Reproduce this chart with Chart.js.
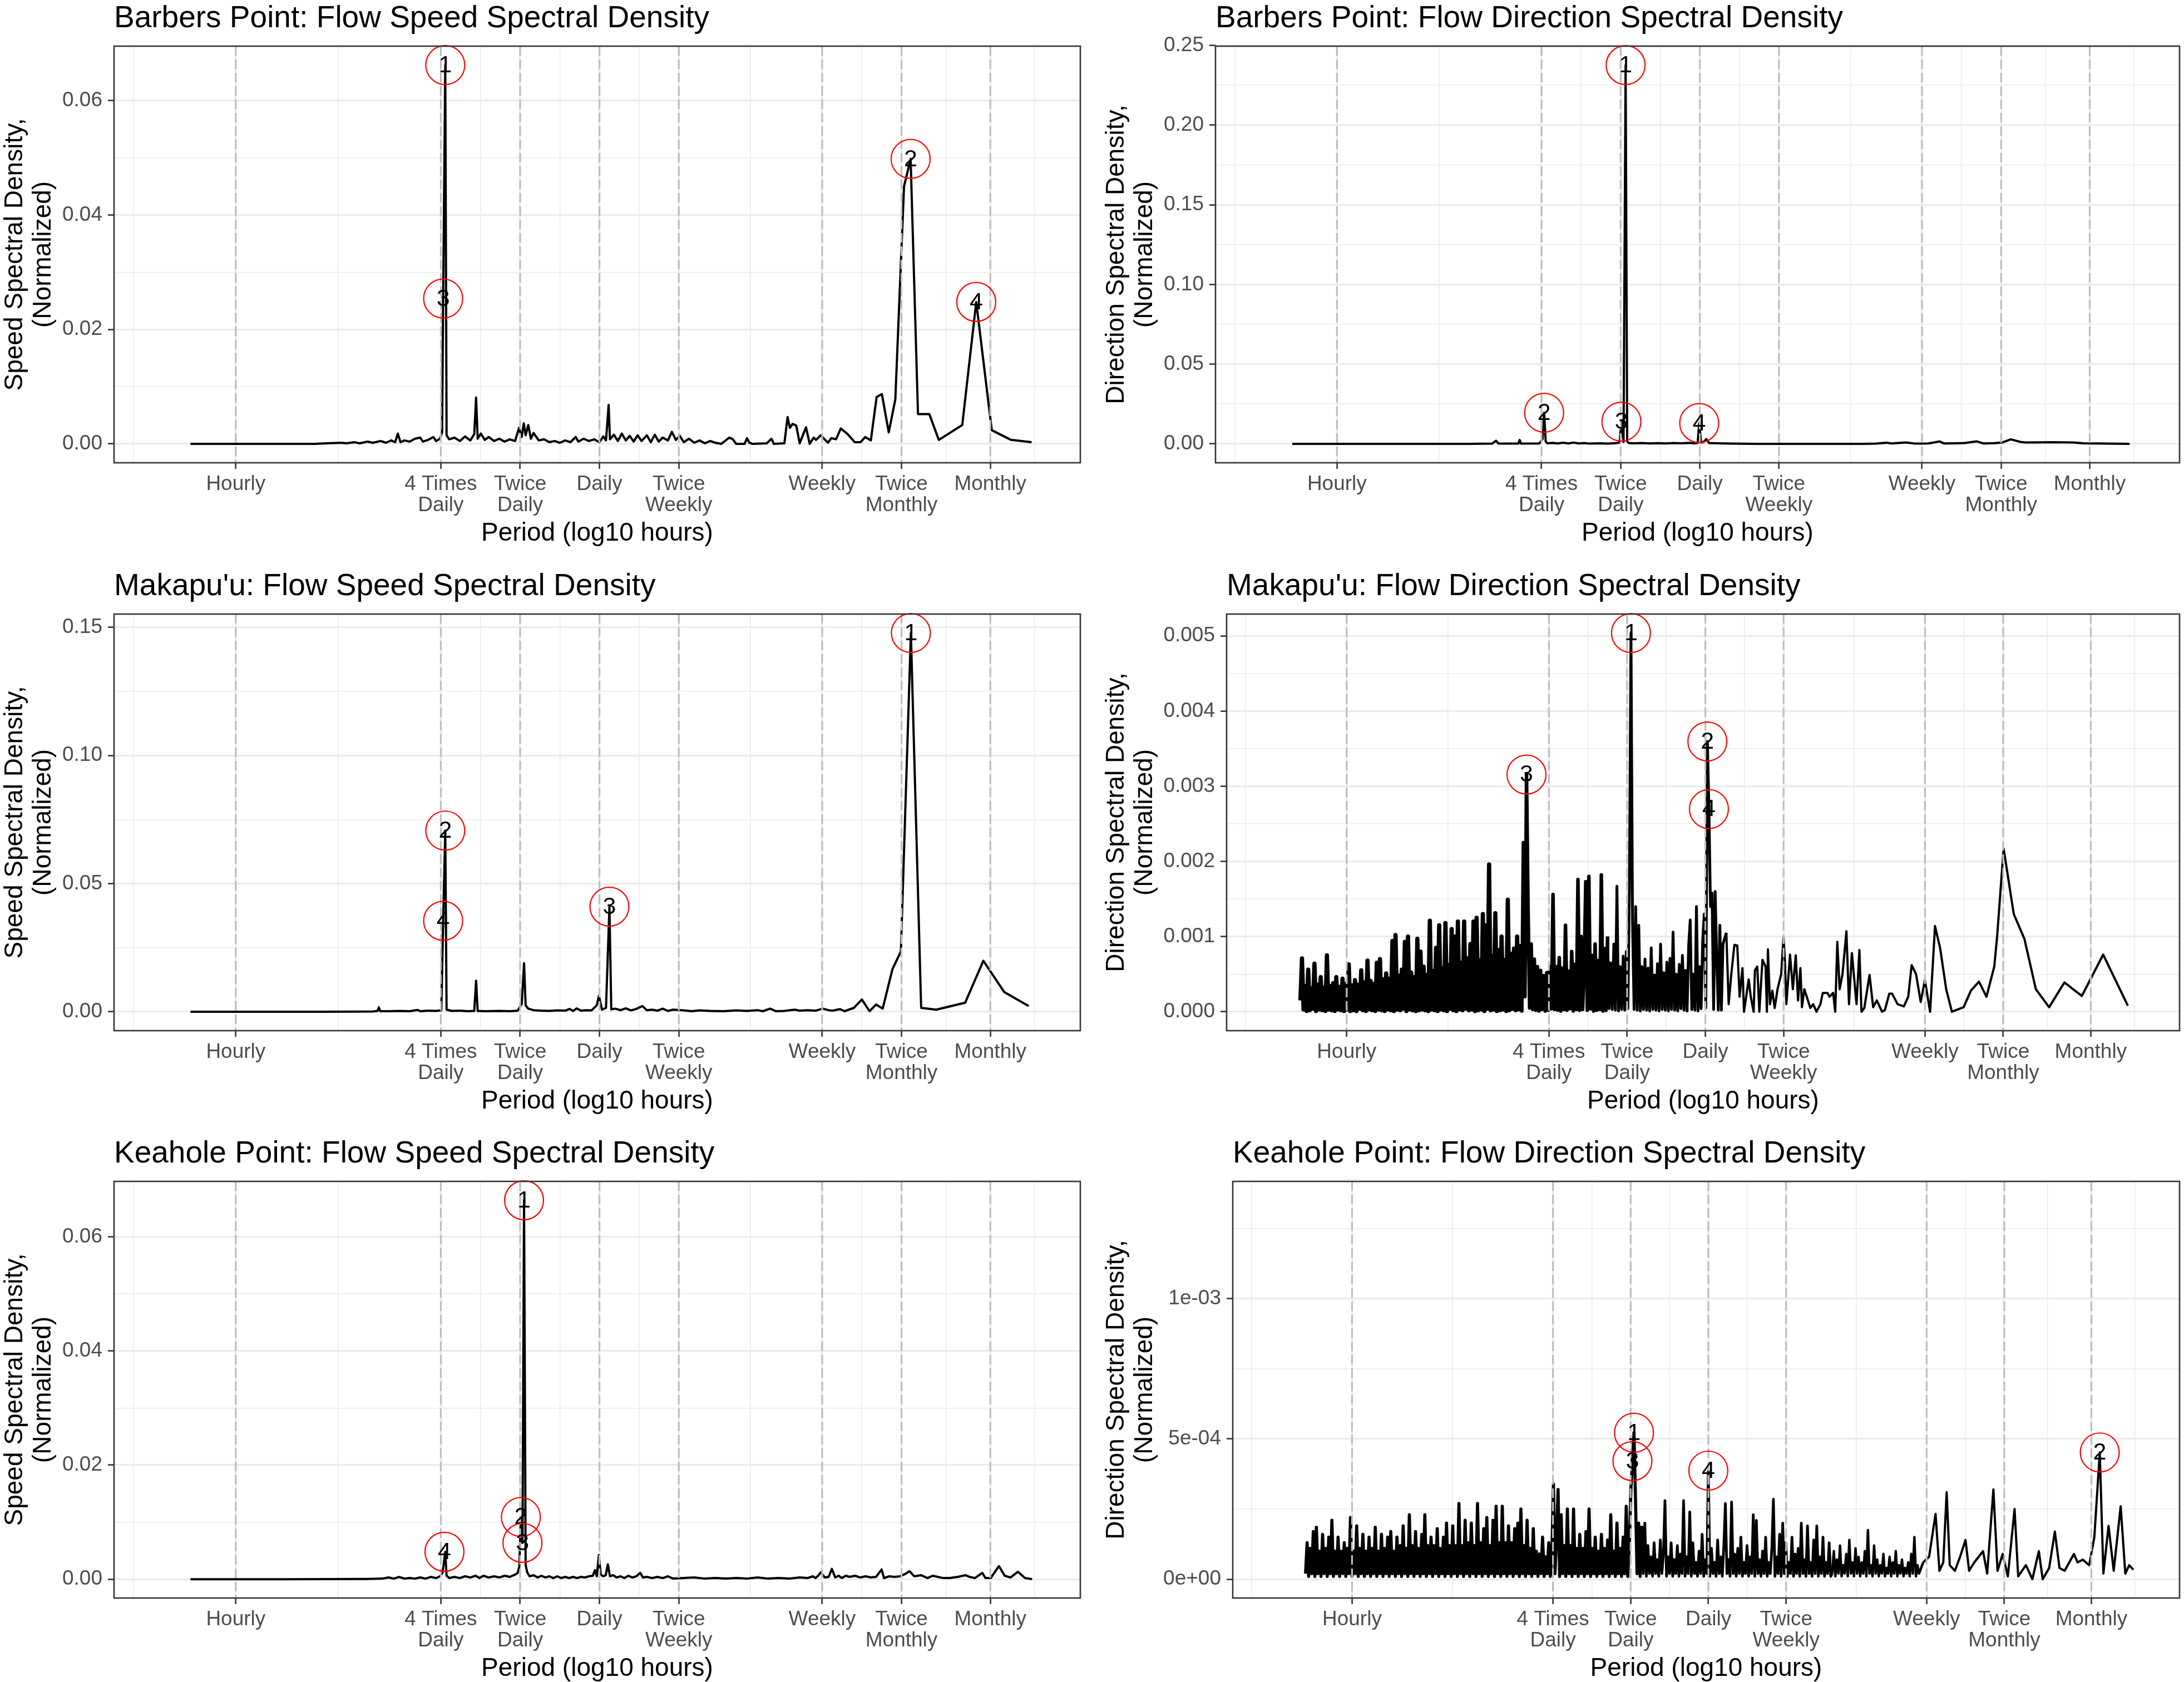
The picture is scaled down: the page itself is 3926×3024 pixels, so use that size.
<!DOCTYPE html>
<html>
<head>
<meta charset="utf-8">
<title>Flow Speed and Direction Spectral Density</title>
<script src="https://cdn.jsdelivr.net/npm/chart.js@4.4.1/dist/chart.umd.min.js"></script>
<style>
  html, body { margin: 0; padding: 0; background: #ffffff; }
  body { width: 3926px; height: 3024px; position: relative; overflow: hidden; }
  canvas { position: absolute; }
</style>
</head>
<body>
<script>
// x values are log10(period in hours), as on the original axes
const periodHours = [1, 6, 12, 24, 48, 168, 336, 730];
const periodLabels = ['Hourly', ['4 Times', 'Daily'], ['Twice', 'Daily'], 'Daily', ['Twice', 'Weekly'], 'Weekly', ['Twice', 'Monthly'], 'Monthly'];
const periodMin = -0.462, periodMax = 3.205;

// y axis breaks per panel
const speedBreaks = [0, 0.02, 0.04, 0.06];
const speedLabels = ['0.00', '0.02', '0.04', '0.06'];
const speedMinor = [0.01, 0.03, 0.05];
const bpDirBreaks = [0, 0.05, 0.10, 0.15, 0.20, 0.25];
const bpDirLabels = ['0.00', '0.05', '0.10', '0.15', '0.20', '0.25'];
const bpDirMinor = [0.025, 0.075, 0.125, 0.175, 0.225];
const mkSpeedBreaks = [0, 0.05, 0.10, 0.15];
const mkSpeedLabels = ['0.00', '0.05', '0.10', '0.15'];
const mkSpeedMinor = [0.025, 0.075, 0.125];
const mkDirBreaks = [0, 0.001, 0.002, 0.003, 0.004, 0.005];
const mkDirLabels = ['0.000', '0.001', '0.002', '0.003', '0.004', '0.005'];
const mkDirMinor = [0.0005, 0.0015, 0.0025, 0.0035, 0.0045];
const khDirBreaks = [0, 0.0005, 0.001];
const khDirLabels = ['0e+00', '5e-04', '1e-03'];
const khDirMinor = [0.00025, 0.00075, 0.00125];

// Barbers Point, speed: [log10 period, density]
const bpSpeed = [
  [-0.172,0],[0.10,0],[0.30,0],[0.345,0.0001],[0.40,0.0002],[0.42,0.0001],[0.45,0.0003],[0.47,0.0001],[0.50,0.0004],[0.52,0.0002],
  [0.55,0.0005],[0.57,0.0002],[0.59,0.0006],[0.605,0.0003],[0.615,0.0018],[0.625,0.0003],[0.64,0.0006],[0.66,0.0004],[0.68,0.0009],[0.70,0.0011],
  [0.71,0.0004],[0.73,0.0007],[0.75,0.0012],[0.76,0.0005],[0.775,0.0009],[0.783,0.002],[0.787,0.0254],[0.795,0.0662],[0.80,0.0015],[0.81,0.0008],
  [0.83,0.0011],[0.85,0.0005],[0.87,0.0013],[0.89,0.0006],[0.905,0.0017],[0.912,0.0081],[0.918,0.0009],[0.93,0.0018],[0.945,0.0007],[0.96,0.0012],
  [0.98,0.0005],[1.00,0.0009],[1.02,0.0004],[1.04,0.0008],[1.06,0.0005],[1.075,0.0028],[1.085,0.0012],[1.093,0.0036],[1.10,0.0015],[1.11,0.0033],
  [1.12,0.0009],[1.13,0.0019],[1.15,0.0006],[1.17,0.0008],[1.19,0.0003],[1.21,0.0005],[1.23,0.0002],[1.25,0.0006],[1.27,0.0003],[1.29,0.0012],
  [1.30,0.0004],[1.32,0.0009],[1.34,0.0005],[1.36,0.0008],[1.38,0.0003],[1.395,0.0013],[1.405,0.0006],[1.415,0.0068],[1.42,0.0008],[1.435,0.0016],
  [1.45,0.0005],[1.465,0.0018],[1.48,0.0006],[1.495,0.0014],[1.51,0.0004],[1.525,0.0015],[1.54,0.0005],[1.56,0.0015],[1.575,0.0003],[1.59,0.0016],
  [1.605,0.0004],[1.62,0.0011],[1.64,0.0006],[1.655,0.0021],[1.67,0.0007],[1.685,0.0014],[1.70,0.0003],[1.72,0.0009],[1.74,0.0002],[1.76,0.0006],
  [1.78,0.0001],[1.80,0.0005],[1.82,0.0002],[1.842,0],[1.873,0.0011],[1.886,0.0008],[1.899,0],[1.931,0],[1.94,0.001],[1.949,0.0002],
  [1.962,0],[2.015,0.0001],[2.033,0.0009],[2.042,0],[2.082,0.0001],[2.094,0.0047],[2.103,0.0028],[2.113,0.0035],[2.127,0.0032],[2.14,0.0001],
  [2.164,0.0029],[2.178,0],[2.193,0.0011],[2.202,0.0007],[2.22,0.0015],[2.247,0.0002],[2.26,0.001],[2.278,0.0008],[2.296,0.0027],[2.322,0.0017],
  [2.349,0.0003],[2.371,0.0003],[2.389,0.0012],[2.41,0.0006],[2.432,0.0082],[2.452,0.0087],[2.478,0.002],[2.503,0.0078],[2.536,0.045],[2.561,0.0498],
  [2.589,0.0052],[2.632,0.0052],[2.668,0.0007],[2.757,0.0033],[2.81,0.0248],[2.869,0.0024],[2.942,0.0007],[3.02,0.0003]
];
const bpSpeedPeaks = [[0.795,0.0662,'1'],[2.561,0.0498,'2'],[0.787,0.0254,'3'],[2.81,0.0248,'4']];

// Barbers Point, direction
const bpDir = [
  [-0.17,0],[0.5,0],[0.59,0.0001],[0.605,0.0019],[0.615,0.0001],[0.69,0.0001],[0.695,0.0024],[0.70,0.0001],[0.77,0.0002],[0.782,0.003],
  [0.788,0.0195],[0.794,0.0015],[0.80,0.0003],[0.82,0.0006],[0.84,0.0002],[0.86,0.0007],[0.88,0.0002],[0.90,0.0008],[0.92,0.0002],[0.94,0.0005],
  [0.96,0.0001],[1.00,0.0003],[1.03,0.0001],[1.06,0.0004],[1.075,0.0008],[1.082,0.0139],[1.09,0.0012],[1.098,0.2376],[1.104,0.0015],[1.11,0.0005],
  [1.13,0.0003],[1.16,0.0005],[1.19,0.0002],[1.22,0.0004],[1.25,0.0002],[1.28,0.0005],[1.31,0.0003],[1.34,0.0006],[1.36,0.0003],[1.372,0.0006],
  [1.378,0.013],[1.385,0.0008],[1.395,0.0012],[1.405,0.003],[1.415,0.0005],[1.45,0.0003],[1.5,0.0001],[1.6,0],[2.0,0],[2.05,0.0001],
  [2.09,0.0007],[2.11,0.0002],[2.14,0.0006],[2.165,0.0008],[2.2,0.0001],[2.25,0.0002],[2.292,0.0015],[2.31,0.0002],[2.35,0.0003],[2.387,0.0005],
  [2.434,0.0015],[2.46,0.0002],[2.5,0.0004],[2.53,0.0008],[2.563,0.0028],[2.6,0.0012],[2.62,0.0008],[2.68,0.0009],[2.72,0.001],[2.8,0.0008],
  [2.84,0.0003],[3.015,0]
];
const bpDirPeaks = [[1.098,0.2376,'1'],[0.788,0.0195,'2'],[1.082,0.0139,'3'],[1.378,0.013,'4']];

// Makapu'u, speed
const mkSpeed = [
  [-0.172,0],[0.30,0],[0.45,0.00005],[0.52,0.0001],[0.538,0.0003],[0.543,0.0017],[0.548,0.0002],[0.58,0.0002],[0.62,0.0003],[0.66,0.0002],
  [0.69,0.0007],[0.70,0.0002],[0.73,0.0004],[0.76,0.0003],[0.78,0.0006],[0.787,0.0355],[0.795,0.0707],[0.80,0.0008],[0.82,0.0003],[0.85,0.0004],
  [0.88,0.0002],[0.905,0.0003],[0.912,0.0121],[0.918,0.0003],[0.95,0.0002],[1.00,0.0003],[1.04,0.0002],[1.07,0.0004],[1.085,0.003],[1.094,0.0189],
  [1.10,0.0025],[1.11,0.0012],[1.13,0.0006],[1.16,0.0004],[1.19,0.0003],[1.22,0.0005],[1.25,0.0004],[1.267,0.0011],[1.28,0.0003],[1.294,0.0013],
  [1.31,0.0004],[1.33,0.0006],[1.35,0.0005],[1.37,0.0025],[1.378,0.0062],[1.39,0.0008],[1.405,0.0015],[1.418,0.041],[1.425,0.0009],[1.44,0.0012],
  [1.46,0.0006],[1.48,0.0013],[1.50,0.0005],[1.52,0.0011],[1.543,0.0022],[1.56,0.0006],[1.58,0.0008],[1.60,0.0004],[1.62,0.0012],[1.64,0.0003],
  [1.66,0.0008],[1.70,0.0005],[1.73,0.0002],[1.76,0.0005],[1.80,0.0003],[1.85,0.0002],[1.90,0.0005],[1.94,0.0003],[1.98,0.0006],[2.0,0.0002],
  [2.028,0.0012],[2.05,0.0002],[2.08,0.0003],[2.121,0.0008],[2.14,0.0004],[2.17,0.0006],[2.2,0.0004],[2.227,0.0012],[2.25,0.0006],[2.265,0.0004],
  [2.293,0.001],[2.31,0.0002],[2.346,0.0015],[2.376,0.0048],[2.405,0.0002],[2.43,0.0028],[2.455,0.0012],[2.492,0.0166],[2.524,0.0235],[2.562,0.1478],
  [2.601,0.0015],[2.658,0.0008],[2.768,0.0035],[2.837,0.0199],[2.916,0.0077],[3.009,0.0022]
];
const mkSpeedPeaks = [[2.562,0.1478,'1'],[0.795,0.0707,'2'],[1.418,0.041,'3'],[0.787,0.0355,'4']];

// Makapu'u, direction (units of 1e-4). Dense part: one value every 0.006 from -0.178
const mkDirStart = -0.178, mkDirStep = 0.006;
const mkDirDense = [
  1.5,7.1,0.3,3.4,0.1,5.6,0.2,3.1,0.4,6.4,
  0.1,3.6,0.3,4.6,0.2,3.2,0.1,7.5,0.3,3.4,
  0.2,3.8,0.1,4.6,0.3,3.3,0.2,4.4,0.1,3.7,
  0.3,6.3,0.1,3.5,0.2,4.2,0.1,3.6,0.4,5.5,
  0.2,3.9,0.1,6.8,0.3,4.1,0.2,3.7,0.1,6.5,
  0.3,7.0,0.2,4.3,0.1,5.1,0.3,4.4,0.2,9.4,
  0.1,10.2,0.3,4.8,0.2,5.6,0.4,9.3,0.1,10.0,
  0.3,5.2,0.2,4.6,0.1,9.7,0.2,8.0,0.3,6.0,
  0.2,4.9,0.1,12.1,0.3,5.4,0.2,8.5,0.1,11.5,
  0.3,5.8,0.2,11.8,0.1,6.2,0.4,11.0,0.2,10.0,
  0.1,12.0,0.3,6.5,0.2,12.0,0.4,7.1,0.2,9.0,
  0.3,12.0,0.1,12.5,0.2,6.8,0.3,13.0,0.1,11.5,
  0.4,19.6,0.2,7.4,0.3,13.1,0.1,8.2,0.2,10.0,
  0.3,6.9,0.1,14.9,0.2,7.7,0.4,8.4,0.2,10.0,
  0.3,9.0,0.1,22.5,2.0,31.55,14.0,0.5,9.0,0.3,
  7.0,0.2,6.0,0.1,5.5,0.3,4.8,0.1,5.2,0.2,
  6.0,0.4,15.6,0.3,6.0,0.2,7.2,0.1,5.8,0.3,
  11.5,0.2,5.4,0.4,8.0,0.1,6.3,0.3,17.6,0.2,
  10.0,0.3,6.1,17.3,0.2,18.0,0.4,7.5,0.1,9.0,
  0.2,6.8,0.3,18.2,0.1,8.4,0.2,10.0,0.4,6.5,
  0.3,9.0,0.2,16.7,0.1,6.0,0.3,7.4,0.2,8.0,
  0.4,16.4,50.38,12.0,0.3,14.0,0.2,11.5,0.1,6.0,
  0.3,7.0,0.2,5.8,0.1,8.5,0.3,4.9,0.2,6.4,
  0.1,9.0,0.3,5.2,0.2,6.6,0.1,7.1,0.3,10.6,
  0.2,5.0,0.1,6.3,0.4,7.5,0.2,5.5,0.1,8.8,
  12.2,0.3,5.0,0.2,14.0,0.1,6.0,0.4,9.5,13.0,
  0.5,35.95,26.96,14.0,15.8,0.3,16.0,7.0,0.2,11.5,
  0.2,9.0
];
const mkDirTail = [
  [1.461,10.5],[1.47,1.0],[1.48,5.0],[1.492,8.9],[1.503,8.8],[1.512,2.0],[1.523,5.8],[1.529,0.0],[1.547,4.3],[1.555,2.0],
  [1.566,0.0],[1.571,5.5],[1.58,6.0],[1.588,0.0],[1.6,6.9],[1.612,6.0],[1.617,0.0],[1.621,8.3],[1.629,1.0],[1.638,2.8],
  [1.647,0.5],[1.658,3.0],[1.672,5.0],[1.681,9.9],[1.686,7.0],[1.692,1.0],[1.706,7.6],[1.717,3.0],[1.728,7.5],[1.737,1.5],
  [1.746,5.8],[1.752,0.6],[1.761,3.0],[1.775,1.5],[1.784,0.5],[1.795,1.0],[1.808,0.0],[1.823,1.0],[1.832,2.5],[1.85,2.5],
  [1.858,2.0],[1.872,2.5],[1.88,0.0],[1.888,9.3],[1.897,3.0],[1.908,5.0],[1.923,10.7],[1.933,1.0],[1.944,7.8],[1.962,1.0],
  [1.973,8.2],[1.981,0.0],[1.992,0.5],[2.012,4.9],[2.026,0.6],[2.04,1.5],[2.06,0.0],[2.071,0.2],[2.088,2.4],[2.099,2.4],
  [2.12,1.0],[2.144,0.7],[2.161,2.0],[2.174,6.2],[2.191,5.0],[2.209,1.3],[2.225,4.2],[2.245,0.0],[2.264,11.4],[2.284,8.4],
  [2.307,3.0],[2.329,0.0],[2.374,0.6],[2.402,2.8],[2.433,4.0],[2.462,2.0],[2.492,6.0],[2.503,10.0],[2.528,21.7],[2.567,13.0],
  [2.608,9.7],[2.652,3.0],[2.703,0.6],[2.762,3.9],[2.829,2.1],[2.911,7.6],[3.006,0.8]
];
const mkDirPeaks = [[1.094,50.38,'1'],[1.388,35.95,'2'],[0.692,31.55,'3'],[1.394,26.96,'4']];

// Keahole Point, speed
const khSpeed = [
  [-0.172,0],[0.2,0],[0.5,0.00005],[0.556,0.0001],[0.58,0.0003],[0.6,0.0001],[0.62,0.0004],[0.64,0.0001],[0.66,0.0002],[0.68,0.0001],
  [0.70,0.0003],[0.72,0.0001],[0.74,0.0004],[0.76,0.0002],[0.775,0.0005],[0.785,0.0012],[0.795,0.0048],[0.80,0.0006],[0.81,0.0002],[0.83,0.0004],
  [0.85,0.0002],[0.87,0.0005],[0.89,0.0003],[0.91,0.0006],[0.925,0.0002],[0.94,0.0006],[0.96,0.0003],[0.98,0.0005],[1.0,0.0003],[1.02,0.0006],
  [1.04,0.0004],[1.06,0.0008],[1.07,0.0011],[1.076,0.0022],[1.082,0.0109],[1.088,0.00636],[1.094,0.0664],[1.100,0.0025],[1.106,0.0012],[1.115,0.0005],
  [1.13,0.0007],[1.145,0.0003],[1.16,0.0006],[1.175,0.0003],[1.19,0.0005],[1.205,0.0002],[1.22,0.0005],[1.235,0.0002],[1.25,0.0004],[1.265,0.0002],
  [1.28,0.0004],[1.295,0.0002],[1.31,0.0004],[1.325,0.0003],[1.34,0.0005],[1.355,0.0006],[1.363,0.0016],[1.37,0.0005],[1.378,0.0042],[1.385,0.0008],
  [1.395,0.0005],[1.404,0.0007],[1.412,0.0026],[1.42,0.0005],[1.432,0.0007],[1.445,0.0003],[1.46,0.0005],[1.475,0.0002],[1.49,0.0006],[1.505,0.0003],
  [1.52,0.0005],[1.535,0.0011],[1.545,0.0003],[1.56,0.0004],[1.58,0.0002],[1.6,0.0004],[1.62,0.0002],[1.64,0.0005],[1.66,0.0001],[1.7,0.0002],
  [1.74,0.0003],[1.78,0.0001],[1.82,0.0002],[1.86,0.0001],[1.9,0.0002],[1.94,0.0001],[1.98,0.0003],[2.02,0.0001],[2.06,0.0002],[2.1,0.0001],
  [2.14,0.0003],[2.17,0.0002],[2.19,0.0005],[2.2,0.0002],[2.21,0.0006],[2.22,0.0012],[2.235,0.0003],[2.25,0.0004],[2.262,0.0018],[2.275,0.0003],
  [2.288,0.0006],[2.3,0.0002],[2.315,0.0006],[2.33,0.0004],[2.35,0.0006],[2.37,0.0003],[2.39,0.0005],[2.41,0.0003],[2.43,0.0004],[2.451,0.0017],
  [2.46,0.0002],[2.48,0.0005],[2.5,0.0004],[2.52,0.0005],[2.54,0.0009],[2.557,0.0014],[2.575,0.0005],[2.6,0.0007],[2.625,0.0002],[2.645,0.0006],
  [2.684,0.0002],[2.71,0.0002],[2.74,0.0004],[2.769,0.0007],[2.785,0.0004],[2.805,0.0002],[2.833,0.0011],[2.845,0.0002],[2.865,0.0002],[2.896,0.0023],
  [2.918,0.0006],[2.94,0.0003],[2.968,0.0013],[2.995,0.0002],[3.022,0]
];
const khSpeedPeaks = [[1.094,0.0664,'1'],[1.082,0.0109,'2'],[1.088,0.00636,'3'],[0.792,0.0048,'4']];

// Keahole Point, direction (units of 1e-4). Dense part: one value every 0.006 from -0.18
const khDirStart = -0.18, khDirStep = 0.006;
const khDirDense = [
  0.2,1.3,0.1,1.1,0.2,1.7,0.1,1.85,0.2,1.0,
  0.1,1.6,0.2,1.1,0.1,1.5,0.2,2.1,0.1,1.0,
  0.2,1.5,0.1,1.0,0.2,1.3,0.1,1.1,0.2,2.2,
  0.1,1.0,0.2,1.9,0.1,1.1,0.2,1.6,0.1,1.0,
  0.2,1.5,0.1,1.1,0.2,1.85,0.1,1.0,0.2,1.6,
  0.1,1.1,0.2,1.5,0.1,1.7,0.2,1.0,0.1,1.5,
  0.2,1.2,0.1,1.9,0.2,1.1,0.1,2.3,0.2,1.2,
  0.1,1.7,0.2,1.1,0.1,1.6,0.2,2.3,0.1,1.2,
  0.2,1.5,0.1,1.2,0.2,1.8,0.1,1.1,0.2,1.5,
  0.1,2.0,0.2,1.2,0.1,1.9,0.2,1.2,0.1,2.7,
  0.2,1.2,0.1,2.1,0.2,1.3,0.1,2.0,0.2,1.2,
  0.1,2.7,0.2,1.3,0.1,1.8,0.2,2.2,0.1,1.2,
  0.2,2.1,0.1,2.6,0.2,1.3,0.1,2.6,0.2,1.3,
  0.1,1.9,0.2,1.3,0.1,1.8,0.2,2.0,0.1,2.5,
  0.2,1.2,0.1,2.1,0.2,1.1,0.1,1.8,0.2,1.0,
  0.1,0.9,0.2,1.5,0.1,0.8,0.2,1.3,0.1,0.9,
  3.4,0.2,1.5,3.2,0.1,2.3,0.2,1.2,0.1,2.5,
  0.2,1.2,0.1,2.5,0.2,1.1,0.1,1.6,0.2,1.1,
  0.1,1.7,0.2,2.5,0.1,1.1,0.2,1.5,0.1,1.0,
  0.2,1.6,0.1,1.1,0.2,1.4,0.1,2.3,0.2,1.0,
  0.1,2.0,0.2,1.1,0.1,1.5,0.2,2.6,0.1,1.2,
  3.2,4.21,5.22,2.8,0.2,2.0,0.1,1.9,0.2,2.0,
  0.1,1.2,0.2,0.8,0.1,1.3,0.2,0.7,0.1,1.4,
  0.2,0.9,2.8,0.1,0.8,0.2,1.3,0.1,0.7,0.2,
  1.2,0.1,0.9,0.2,2.8,0.1,0.8,0.2,2.4,0.1,
  1.3,0.2,0.6,0.1,1.0,0.2,1.6,0.1,0.7,0.2,
  3.87,0.1,1.1,0.2,0.6,0.1,1.4,0.2,0.8,0.1,
  1.2,2.7,0.2,0.7,0.1,2.75,0.2,0.9,0.1,1.1,
  0.2,1.5,0.1,0.6,0.2,1.2,0.1,0.8,0.2,2.3,
  0.1,2.1,0.2,0.7,0.1,1.0,0.2,1.5,0.1,0.6,
  0.2,1.1,2.85,0.1,0.8,0.2,1.6,0.1,2.0,0.2,
  1.3,0.1,0.6,0.2,1.5,0.1,0.9,0.2,1.1,0.1,
  2.0,0.2,0.7,0.1,1.9,0.2,0.6,0.1,1.4,0.2,
  1.9,0.1,0.8,0.2,1.5,0.1,0.6,0.2,1.3,0.1,
  0.2,1.0,0.1,0.7,0.2,1.2,0.1,0.5,0.2,0.9,
  0.1,1.4,0.2,0.6,0.1,1.1,0.2,0.8,0.1,0.6,
  0.2,1.0,0.1,1.75,0.2,0.5,0.1,1.2,0.2,0.7,
  0.1,0.5,0.2,0.9,0.1,0.4,0.2,0.8,0.1,0.6,
  0.2,1.0,0.1,0.5,0.2,0.7,0.1,0.4,0.2,0.6,
  0.1,0.9,0.2,1.5,0.1,0.5,0.2
];
const khDirTail = [
  [2.212,0.6],[2.235,0.8],[2.26,2.33],[2.275,0.3],[2.29,0.6],[2.303,3.1],[2.315,0.5],[2.335,0.3],[2.355,0.8],[2.376,1.4],
  [2.39,0.3],[2.41,0.6],[2.444,1.0],[2.46,0.2],[2.484,3.2],[2.5,0.3],[2.52,0.9],[2.54,0.1],[2.566,2.5],[2.58,0.1],
  [2.61,0.5],[2.635,0.0],[2.66,1.0],[2.675,0.0],[2.7,0.4],[2.722,1.7],[2.74,0.4],[2.76,0.3],[2.796,0.9],[2.81,0.6],
  [2.83,0.7],[2.855,0.5],[2.875,1.5],[2.896,4.52],[2.91,0.2],[2.93,1.9],[2.95,0.3],[2.977,2.6],[2.995,0.2],[3.01,0.5],
  [3.026,0.34]
];
const khDirPeaks = [[1.092,5.22,'1'],[2.896,4.52,'2'],[1.086,4.21,'3'],[1.38,3.87,'4']];

// ---------------------------------------------------------------

const FONT = '"Liberation Sans", Arial, sans-serif';
const periodBreaks = periodHours.map(h => Math.log10(h));
const lastBreak = periodBreaks.length - 1;
const periodMinor = [periodBreaks[0] - (periodBreaks[1] - periodBreaks[0]) / 2];
for (let i = 1; i < periodBreaks.length; i++) periodMinor.push((periodBreaks[i - 1] + periodBreaks[i]) / 2);
periodMinor.push(periodBreaks[lastBreak] + (periodBreaks[lastBreak] - periodBreaks[lastBreak - 1]) / 2);

function pairPoints(pairs, unit) {
  return pairs.map(p => ({x: p[0], y: p[1] * unit}));
}
function gridPoints(start, step, values, unit) {
  return values.map((v, i) => ({x: start + step * i, y: v * unit}));
}
function tickList(major, minor) {
  return major.map(v => ({value: v, isMajor: true}))
    .concat(minor.map(v => ({value: v, isMajor: false})))
    .sort((a, b) => a.value - b.value);
}
function labelAt(breaks, labels, value) {
  const i = breaks.findIndex(b => Math.abs(b - value) < 1e-9);
  return i < 0 ? '' : labels[i];
}
function gridOpts() {
  return {
    color: '#EBEBEB',
    lineWidth: c => (c.tick && c.tick.isMajor ? 3.2 : 1.6),
    drawTicks: true,
    tickLength: 11,
    tickWidth: 2.6,
    tickColor: c => (c.tick && c.tick.isMajor ? '#333333' : 'rgba(0,0,0,0)')
  };
}

const panelDecor = {
  id: 'panelDecor',
  afterDatasetsDraw(chart, args, opts) {
    const {ctx, chartArea: a, scales: {x, y}} = chart;
    ctx.save();
    ctx.beginPath();
    ctx.rect(a.left, a.top, a.right - a.left, a.bottom - a.top);
    ctx.clip();
    ctx.strokeStyle = '#BEBEBE';
    ctx.lineWidth = 3.2;
    ctx.setLineDash([17, 7]);
    periodBreaks.forEach(v => {
      const px = x.getPixelForValue(v);
      ctx.beginPath();
      ctx.moveTo(px, a.top);
      ctx.lineTo(px, a.bottom);
      ctx.stroke();
    });
    ctx.restore();

    ctx.save();
    ctx.setLineDash([]);
    opts.peaks.forEach(p => {
      const px = x.getPixelForValue(p[0]);
      const py = y.getPixelForValue(p[1] * opts.unit);
      ctx.strokeStyle = '#FF0000';
      ctx.lineWidth = 2.2;
      ctx.beginPath();
      ctx.arc(px, py, 35, 0, Math.PI * 2);
      ctx.stroke();
      ctx.fillStyle = '#000000';
      ctx.font = '43px ' + FONT;
      ctx.textAlign = 'center';
      ctx.textBaseline = 'middle';
      ctx.fillText(p[2], px, py + 1);
    });
    ctx.restore();
  },
  afterDraw(chart, args, opts) {
    const {ctx, chartArea: a} = chart;
    ctx.save();
    ctx.strokeStyle = '#333333';
    ctx.lineWidth = 2.6;
    ctx.strokeRect(a.left, a.top, a.right - a.left, a.bottom - a.top);
    ctx.fillStyle = '#000000';
    ctx.font = '55px ' + FONT;
    ctx.textAlign = 'left';
    ctx.textBaseline = 'alphabetic';
    ctx.fillText(opts.title, a.left, a.top - 34);
    ctx.restore();
  }
};

function makePanel(p) {
  const canvas = document.createElement('canvas');
  canvas.width = p.width;
  canvas.height = 984;
  canvas.style.left = p.left + 'px';
  canvas.style.top = p.top + 'px';
  canvas.style.width = p.width + 'px';
  canvas.style.height = '984px';
  document.body.appendChild(canvas);

  // dense stretches of the spectrum are drawn with a heavier stroke
  const widthAt = xv => {
    for (const w of p.widths) if (xv < w[0]) return w[1];
    return 4.0;
  };

  return new Chart(canvas.getContext('2d'), {
    type: 'line',
    data: {
      datasets: [{
        data: p.points,
        borderColor: '#000000',
        borderWidth: 4.0,
        borderJoinStyle: 'round',
        pointRadius: 0,
        tension: 0,
        fill: false,
        segment: {
          borderWidth: c => widthAt(p.points[c.p0DataIndex].x)
        }
      }]
    },
    plugins: [panelDecor],
    options: {
      responsive: false,
      animation: false,
      devicePixelRatio: 1,
      events: [],
      parsing: false,
      normalized: true,
      layout: {padding: {top: 81, left: 0, right: p.padRight, bottom: 0}},
      plugins: {
        legend: {display: false},
        tooltip: {enabled: false},
        panelDecor: {title: p.title, peaks: p.peaks, unit: p.unit}
      },
      scales: {
        x: {
          type: 'linear',
          min: periodMin,
          max: periodMax,
          afterBuildTicks: s => { s.ticks = tickList(periodBreaks, periodMinor); },
          afterFit: s => { s.height = 154; },
          grid: gridOpts(),
          border: {display: false},
          ticks: {
            autoSkip: false,
            maxRotation: 0,
            minRotation: 0,
            padding: 8,
            color: '#4D4D4D',
            font: {family: FONT, size: 37, lineHeight: 1.05},
            callback: (v, i, ticks) => (ticks[i].isMajor ? labelAt(periodBreaks, periodLabels, v) : '')
          },
          title: {
            display: true,
            text: 'Period (log10 hours)',
            color: '#000000',
            font: {family: FONT, size: 46, lineHeight: 1.1},
            padding: {top: 0, bottom: 1}
          }
        },
        y: {
          type: 'linear',
          min: p.yMin,
          max: p.yMax,
          afterBuildTicks: s => { s.ticks = tickList(p.yBreaks, p.yMinor); },
          afterFit: s => { s.width = p.yAxisWidth; },
          grid: gridOpts(),
          border: {display: false},
          ticks: {
            autoSkip: false,
            padding: 10,
            color: '#4D4D4D',
            font: {family: FONT, size: 37},
            callback: (v, i, ticks) => (ticks[i].isMajor ? labelAt(p.yBreaks, p.yLabels, v) : '')
          },
          title: {
            display: true,
            text: [p.yTitle + ' Spectral Density,', '(Normalized)'],
            color: '#000000',
            font: {family: FONT, size: 46, lineHeight: 1.1},
            padding: {top: 2, bottom: 0}
          }
        }
      }
    }
  });
}

const panels = [
  {left: 0, top: 2, width: 1960, padRight: 18, yAxisWidth: 205, widths: [],
   title: 'Barbers Point: Flow Speed Spectral Density', yTitle: 'Speed',
   points: pairPoints(bpSpeed, 1), peaks: bpSpeedPeaks, unit: 1,
   yMin: -0.0033, yMax: 0.0695, yBreaks: speedBreaks, yLabels: speedLabels, yMinor: speedMinor},
  {left: 1980, top: 2, width: 1946, padRight: 8, yAxisWidth: 205, widths: [],
   title: 'Barbers Point: Flow Direction Spectral Density', yTitle: 'Direction',
   points: pairPoints(bpDir, 1), peaks: bpDirPeaks, unit: 1,
   yMin: -0.0119, yMax: 0.2495, yBreaks: bpDirBreaks, yLabels: bpDirLabels, yMinor: bpDirMinor},
  {left: 0, top: 1023, width: 1960, padRight: 18, yAxisWidth: 205, widths: [],
   title: "Makapu'u: Flow Speed Spectral Density", yTitle: 'Speed',
   points: pairPoints(mkSpeed, 1), peaks: mkSpeedPeaks, unit: 1,
   yMin: -0.0074, yMax: 0.1552, yBreaks: mkSpeedBreaks, yLabels: mkSpeedLabels, yMinor: mkSpeedMinor},
  {left: 1980, top: 1023, width: 1946, padRight: 8, yAxisWidth: 225, widths: [[0.665, 7.6], [1.0, 6.4], [1.455, 5.0]],
   title: "Makapu'u: Flow Direction Spectral Density", yTitle: 'Direction',
   points: gridPoints(mkDirStart, mkDirStep, mkDirDense, 1e-4).concat(pairPoints(mkDirTail, 1e-4)),
   peaks: mkDirPeaks, unit: 1e-4,
   yMin: -0.000252, yMax: 0.00529, yBreaks: mkDirBreaks, yLabels: mkDirLabels, yMinor: mkDirMinor},
  {left: 0, top: 2043, width: 1960, padRight: 18, yAxisWidth: 205, widths: [],
   title: 'Keahole Point: Flow Speed Spectral Density', yTitle: 'Speed',
   points: pairPoints(khSpeed, 1), peaks: khSpeedPeaks, unit: 1,
   yMin: -0.0033, yMax: 0.0697, yBreaks: speedBreaks, yLabels: speedLabels, yMinor: speedMinor},
  {left: 1980, top: 2043, width: 1946, padRight: 8, yAxisWidth: 236, widths: [[1.12, 5.6], [1.86, 4.8], [2.2, 4.4]],
   title: 'Keahole Point: Flow Direction Spectral Density', yTitle: 'Direction',
   points: gridPoints(khDirStart, khDirStep, khDirDense, 1e-4).concat(pairPoints(khDirTail, 1e-4)),
   peaks: khDirPeaks, unit: 1e-4,
   yMin: -0.000067, yMax: 0.001418, yBreaks: khDirBreaks, yLabels: khDirLabels, yMinor: khDirMinor}
];

panels.forEach(makePanel);
</script>
</body>
</html>
